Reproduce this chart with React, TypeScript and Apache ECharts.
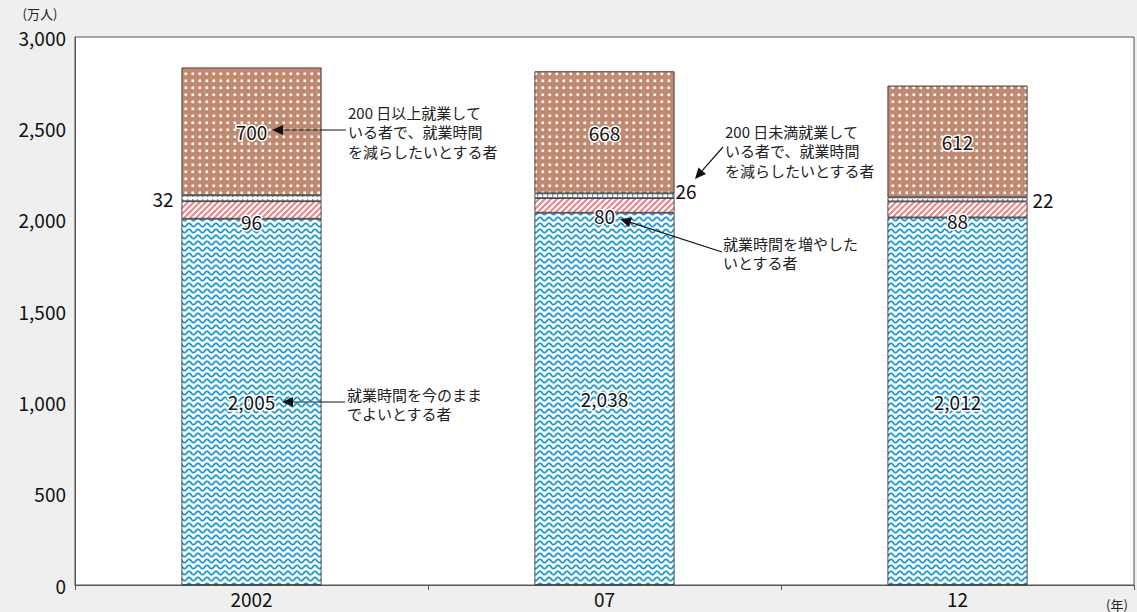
import React, { useEffect, useRef } from "react";
import * as echarts from "echarts";

// 年次
const years = ["2002", "07", "12"];
// 就業時間を今のままでよいとする者（万人）
const keepHours = [2005, 2038, 2012];
// 就業時間を増やしたいとする者
const wantMore = [96, 80, 88];
// 200日未満就業している者で、就業時間を減らしたいとする者
const reduceUnder200 = [32, 26, 22];
// 200日以上就業している者で、就業時間を減らしたいとする者
const reduceOver200 = [700, 668, 612];

const FONT = '"Noto Sans CJK JP", "Noto Sans", sans-serif';
const NUM_SIZE = 19;

function makePattern(w: number, h: number, draw: (ctx: CanvasRenderingContext2D) => void) {
  const c = document.createElement("canvas");
  c.width = w;
  c.height = h;
  const ctx = c.getContext("2d") as CanvasRenderingContext2D;
  draw(ctx);
  return { image: c, repeat: "repeat", imageWidth: w, imageHeight: h } as any;
}

function wavePattern() {
  return makePattern(9, 6, (ctx) => {
    ctx.fillStyle = "#ffffff";
    ctx.fillRect(0, 0, 9, 6);
    ctx.strokeStyle = "#1a9ad9";
    ctx.lineWidth = 1.8;
    ctx.beginPath();
    for (let x = -1; x <= 10; x += 0.5) {
      const y = 3 - 1.7 * Math.cos((2 * Math.PI * x) / 9);
      if (x === -1) ctx.moveTo(x, y);
      else ctx.lineTo(x, y);
    }
    ctx.stroke();
  });
}

function hatchPattern() {
  return makePattern(6, 6, (ctx) => {
    ctx.fillStyle = "#ffffff";
    ctx.fillRect(0, 0, 6, 6);
    ctx.strokeStyle = "#ef8386";
    ctx.lineWidth = 2;
    ctx.beginPath();
    for (let k = -1; k <= 3; k++) {
      ctx.moveTo(-1, 6 * k + 1);
      ctx.lineTo(7, 6 * k - 7);
    }
    ctx.stroke();
  });
}

function dotPattern() {
  return makePattern(7, 7, (ctx) => {
    ctx.fillStyle = "#c18a70";
    ctx.fillRect(0, 0, 7, 7);
    ctx.fillStyle = "#ffffff";
    ctx.fillRect(2.5, 2.5, 2.6, 2.6);
  });
}

function dashPattern() {
  return makePattern(5, 6, (ctx) => {
    ctx.fillStyle = "#ffffff";
    ctx.fillRect(0, 0, 5, 6);
    ctx.fillStyle = "#45a7e0";
    ctx.fillRect(2, 1, 1.3, 4);
  });
}

const valueLabel = {
  show: true,
  color: "#111",
  fontSize: NUM_SIZE,
  fontFamily: FONT,
  textBorderColor: "#ffffff",
  textBorderWidth: 3,
  formatter: (p: any) => Number(p.value).toLocaleString("en-US"),
};

function arrow(x1: number, y1: number, x2: number, y2: number) {
  // line from (x1,y1) to the tip (x2,y2), with a filled head at the tip
  const dx = x2 - x1;
  const dy = y2 - y1;
  const len = Math.sqrt(dx * dx + dy * dy);
  const ux = dx / len;
  const uy = dy / len;
  const headL = 11;
  const headW = 5;
  const bx = x2 - ux * headL;
  const by = y2 - uy * headL;
  return [
    {
      type: "line",
      shape: { x1, y1, x2: bx, y2: by },
      style: { stroke: "#111", lineWidth: 1.2 },
      z: 100,
    },
    {
      type: "polygon",
      shape: {
        points: [
          [x2, y2],
          [bx - uy * headW, by + ux * headW],
          [bx + uy * headW, by - ux * headW],
        ],
      },
      style: { fill: "#111" },
      z: 100,
    },
  ];
}

// multi-line annotation: one text element per line
const NOTE_LH = 19.5;
function note(x: number, firstCenterY: number, lines: string[]) {
  return lines.map((line, i) => ({
    type: "text",
    x,
    y: firstCenterY + i * NOTE_LH,
    z: 100,
    style: {
      text: line,
      fill: "#222",
      font: `15px ${FONT}`,
      verticalAlign: "middle",
      align: "left",
    },
  }));
}

export default function App() {
  const ref = useRef<HTMLDivElement>(null);

  useEffect(() => {
    document.body.style.margin = "0";
    document.body.style.background = "#efefef";
    if (!ref.current) return;
    const chart = echarts.init(ref.current, undefined, { renderer: "svg" });

    const option: any = {
      animation: false,
      backgroundColor: "#efefef",
      grid: {
        left: 75,
        right: 3,
        top: 37,
        bottom: 27,
        show: true,
        backgroundColor: "#ffffff",
        borderColor: "#555",
        borderWidth: 1,
      },
      xAxis: {
        type: "category",
        data: years,
        axisLine: { lineStyle: { color: "#555" } },
        axisTick: { show: true, length: 5, lineStyle: { color: "#555" } },
        axisLabel: { color: "#111", fontSize: NUM_SIZE, fontFamily: FONT, margin: 4 },
      },
      yAxis: {
        type: "value",
        min: 0,
        max: 3000,
        interval: 500,
        splitLine: { show: false },
        axisLine: { show: true, lineStyle: { color: "#555" } },
        axisTick: { show: false },
        axisLabel: {
          color: "#111",
          fontSize: NUM_SIZE,
          fontFamily: FONT,
          margin: 9,
          formatter: (v: number) => v.toLocaleString("en-US"),
        },
      },
      series: [
        {
          name: "就業時間を今のままでよいとする者",
          type: "bar",
          stack: "total",
          barWidth: 140,
          data: keepHours,
          itemStyle: { color: wavePattern(), borderColor: "#222", borderWidth: 0.8 },
          label: { ...valueLabel, position: "inside" },
        },
        {
          name: "就業時間を増やしたいとする者",
          type: "bar",
          stack: "total",
          barWidth: 140,
          data: wantMore,
          itemStyle: { color: hatchPattern(), borderColor: "#222", borderWidth: 0.8 },
          label: {
            ...valueLabel,
            position: ["50%", "100%"],
            align: "center",
            verticalAlign: "middle",
            offset: [0, 3],
          },
        },
        {
          name: "200日未満就業している者で、就業時間を減らしたいとする者",
          type: "bar",
          stack: "total",
          barWidth: 140,
          data: reduceUnder200.map((v, i) => ({
            value: v,
            label:
              i === 0
                ? { position: "left", distance: 8 }
                : i === 1
                ? { position: "right", distance: 1, offset: [0, -5] }
                : { position: "right", distance: 5 },
          })),
          itemStyle: { color: dashPattern(), borderColor: "#222", borderWidth: 0.8 },
          label: { ...valueLabel, textBorderWidth: 0 },
        },
        {
          name: "200日以上就業している者で、就業時間を減らしたいとする者",
          type: "bar",
          stack: "total",
          barWidth: 140,
          data: reduceOver200,
          itemStyle: { color: dotPattern(), borderColor: "#222", borderWidth: 0.8 },
          label: { ...valueLabel, position: "inside" },
        },
      ],
      graphic: [
        {
          type: "text",
          x: 40,
          y: 13,
          style: { text: "(万人)", fill: "#222", font: `13px ${FONT}`, align: "center", verticalAlign: "middle" },
        },
        {
          type: "text",
          x: 1117,
          y: 604,
          style: { text: "(年)", fill: "#222", font: `13px ${FONT}`, align: "center", verticalAlign: "middle" },
        },
        ...note(348, 112, ["200 日以上就業して", "いる者で、就業時間", "を減らしたいとする者"]),
        ...arrow(346, 130, 272, 130),
        ...note(725, 131, ["200 日未満就業して", "いる者で、就業時間", "を減らしたいとする者"]),
        ...arrow(723, 147, 695, 179),
        ...note(723, 243, ["就業時間を増やした", "いとする者"]),
        ...arrow(722, 252, 620, 219),
        ...note(347, 394, ["就業時間を今のまま", "でよいとする者"]),
        ...arrow(345, 402, 282, 402),
      ],
    };

    chart.setOption(option);
    return () => {
      chart.dispose();
    };
  }, []);

  return <div ref={ref} style={{ width: 1137, height: 612 }} />;
}
